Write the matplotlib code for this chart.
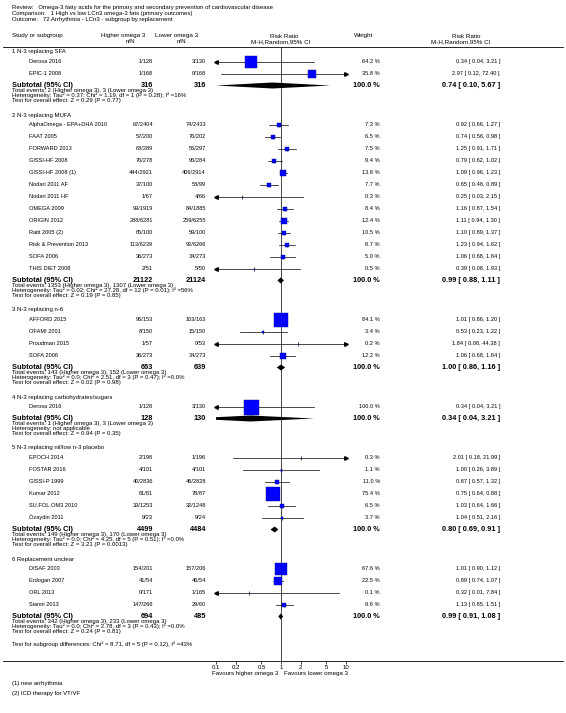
import matplotlib.pyplot as plt
from matplotlib.ticker import NullLocator

plt.rcParams['font.family'] = ['Liberation Sans', 'DejaVu Sans']

# ---- data ----
review = 'Review:   Omega-3 fatty acids for the primary and secondary prevention of cardiovascular disease'
comparison = 'Comparison:   1 High vs low LCn3 omega-3 fats (primary outcomes)'
outcome = 'Outcome:   72 Arrhythmia - LCn3 - subgroup by replacement'

groups = ['1 N-3 replacing SFA', '2 N-3 replacing MUFA', '3 N-3 replacing n-6',
          '4 N-3 replacing carbohydrates/sugars', '5 N-3 replacing nil/low n-3 placebo',
          '6 Replacement unclear']

names = [
    ['Derosa 2016', 'EPIC-1 2008'],
    ['AlphaOmega - EPA+DHA 2010', 'FAAT 2005', 'FORWARD 2013', 'GISSI-HF 2008',
     'GISSI-HF 2008 (1)', 'Nodari 2011 AF', 'Nodari 2011 HF', 'OMEGA 2009',
     'ORIGIN 2012', 'Raitt 2005 (2)', 'Risk & Prevention 2013', 'SOFA 2006',
     'THIS DIET 2008'],
    ['AFFORD 2015', 'OFAMI 2001', 'Proudman 2015', 'SOFA 2006'],
    ['Derosa 2016'],
    ['EPOCH 2014', 'FOSTAR 2016', 'GISSI-P 1999', 'Kumar 2012', 'SU.FOL.OM3 2010',
     'Özaydin 2011'],
    ['DISAF 2003', 'Erdogan 2007', 'ORL 2013', 'Sianni 2013'],
]
hi_ev = [[1, 1], [67, 57, 68, 76, 444, 37, 1, 99, 288, 65, 113, 36, 2],
         [96, 8, 1, 36], [1], [2, 4, 40, 61, 33, 9], [154, 41, 0, 147]]
hi_n = [[128, 168], [2404, 200, 289, 278, 2921, 100, 67, 1919, 6281, 100, 6239, 273, 51],
        [153, 150, 57, 273], [128], [198, 101, 2836, 81, 1253, 23], [201, 54, 171, 266]]
lo_ev = [[3, 0], [74, 76, 56, 96, 406, 58, 4, 84, 259, 59, 92, 34, 5],
         [103, 15, 0, 34], [3], [1, 4, 46, 78, 32, 9], [157, 46, 1, 29]]
lo_n = [[130, 168], [2433, 202, 297, 284, 2914, 99, 66, 1885, 6255, 100, 6266, 273, 50],
        [163, 150, 53, 273], [130], [196, 101, 2828, 87, 1248, 24], [206, 54, 165, 60]]
weight = [[64.2, 35.8], [7.3, 6.5, 7.5, 9.4, 13.8, 7.7, 0.3, 8.4, 12.4, 10.5, 8.7, 5.0, 0.5],
          [84.1, 3.4, 0.2, 12.2], [100.0], [0.3, 1.1, 11.0, 75.4, 6.5, 3.7],
          [67.6, 22.5, 0.1, 9.6]]
rr = [[0.34, 2.97], [0.92, 0.74, 1.25, 0.79, 1.09, 0.65, 0.25, 1.16, 1.11, 1.10, 1.23, 1.06, 0.39],
      [1.01, 0.53, 1.84, 1.06], [0.34], [2.01, 1.00, 0.87, 0.75, 1.03, 1.04],
      [1.01, 0.89, 0.32, 1.13]]
ci_lo = [[0.04, 0.12], [0.66, 0.56, 0.91, 0.62, 0.96, 0.48, 0.03, 0.87, 0.94, 0.89, 0.94, 0.68, 0.08],
         [0.86, 0.23, 0.08, 0.68], [0.04], [0.18, 0.26, 0.57, 0.64, 0.64, 0.51],
         [0.90, 0.74, 0.01, 0.85]]
ci_hi = [[3.21, 72.40], [1.27, 0.98, 1.71, 1.02, 1.23, 0.89, 2.15, 1.54, 1.30, 1.37, 1.62, 1.64, 1.93],
         [1.20, 1.22, 44.38, 1.64], [3.21], [21.99, 3.89, 1.32, 0.88, 1.66, 2.16],
         [1.12, 1.07, 7.84, 1.51]]

sub_hi_n = [316, 21122, 663, 128, 4499, 694]
sub_lo_n = [316, 21124, 639, 130, 4484, 485]
sub_rr = [0.74, 0.99, 1.00, 0.34, 0.80, 0.99]
sub_lo = [0.10, 0.88, 0.86, 0.04, 0.69, 0.91]
sub_hi = [5.67, 1.11, 1.16, 3.21, 0.91, 1.08]
tot_events = [
    'Total events: 2 (Higher omega 3), 3 (Lower omega 3)',
    'Total events: 1353 (Higher omega 3), 1307 (Lower omega 3)',
    'Total events: 143 (Higher omega 3), 152 (Lower omega 3)',
    'Total events: 1 (Higher omega 3), 3 (Lower omega 3)',
    'Total events: 149 (Higher omega 3), 170 (Lower omega 3)',
    'Total events: 342 (Higher omega 3), 233 (Lower omega 3)',
]
het = [
    'Heterogeneity: Tau² = 0.37; Chi² = 1.19, df = 1 (P = 0.28); I² =16%',
    'Heterogeneity: Tau² = 0.02; Chi² = 27.28, df = 12 (P = 0.01); I² =56%',
    'Heterogeneity: Tau² = 0.0; Chi² = 2.51, df = 3 (P = 0.47); I² =0.0%',
    'Heterogeneity: not applicable',
    'Heterogeneity: Tau² = 0.0; Chi² = 4.25, df = 5 (P = 0.51); I² =0.0%',
    'Heterogeneity: Tau² = 0.0; Chi² = 2.78, df = 3 (P = 0.43); I² =0.0%',
]
overall = [
    'Test for overall effect: Z = 0.29 (P = 0.77)',
    'Test for overall effect: Z = 0.19 (P = 0.85)',
    'Test for overall effect: Z = 0.02 (P = 0.98)',
    'Test for overall effect: Z = 0.94 (P = 0.35)',
    'Test for overall effect: Z = 3.21 (P = 0.0013)',
    'Test for overall effect: Z = 0.24 (P = 0.81)',
]
subgroup_test = 'Test for subgroup differences: Chi² = 8.71, df = 5 (P = 0.12), I² =43%'
footnotes = ['(1) new arrhythmia', '(2) ICD therapy for VT/VF']
ticks = [0.1, 0.2, 0.5, 1, 2, 5, 10]

# ---- layout (pixels) ----
W, H = 566, 713
X_HEAD, X_STUDY = 12, 29
X_HI, X_LO = 153, 206
X_W, X_RR = 380, 500
F_L, F_R = 216, 346
Y_TOP, Y_AX = 46.5, 661
SMALL, STUDY, BOLD = 4.3, 4.1, 5.3

fig = plt.figure(figsize=(W / 100, H / 100), dpi=100)
ax0 = fig.add_axes([0, 0, 1, 1])
ax0.set_xlim(0, W)
ax0.set_ylim(H, 0)
ax0.axis('off')

axf = fig.add_axes([F_L / W, (H - Y_AX) / H, (F_R - F_L) / W, (Y_AX - Y_TOP) / H])
axf.set_xscale('log')
axf.set_xlim(0.1, 10)
axf.set_ylim(Y_AX, Y_TOP)
axf.patch.set_visible(False)
for s in axf.spines.values():
    s.set_visible(False)
axf.set_xticks(ticks)
axf.set_xticklabels([f'{t:g}' for t in ticks])
axf.xaxis.set_minor_locator(NullLocator())
axf.set_yticks([])
axf.tick_params(axis='x', length=2, width=0.5, labelsize=4.3, pad=1)
axf.axvline(1, color='black', lw=0.5)


def t(x, y, s, size=SMALL, **kw):
    ax0.text(x, y, s, fontsize=size, va='center', **kw)


# header
for i, line in enumerate([review, comparison, outcome]):
    t(X_HEAD, 8 + i * 6, line)
HDR = 4.5
t(X_HEAD, 36, 'Study or subgroup', HDR)
t(123, 36, 'Higher omega 3', HDR, ha='center')
t(130, 41.5, 'n/N', HDR, ha='center')
t(177, 36, 'Lower omega 3', HDR, ha='center')
t(181, 41.5, 'n/N', HDR, ha='center')
t(284, 36, 'Risk Ratio', HDR, ha='center')
t(281, 41.5, 'M-H,Random,95% CI', HDR, ha='center')
t(364, 36, 'Weight', HDR, ha='center')
t(466, 36, 'Risk Ratio', HDR, ha='center')
t(461, 41.5, 'M-H,Random,95% CI', HDR, ha='center')
ax0.plot([3, 563], [Y_TOP, Y_TOP], color='black', lw=0.6)

y = 52
for g in range(len(groups)):
    t(X_HEAD, y, groups[g])
    y += 9.5
    for i, name in enumerate(names[g]):
        t(X_STUDY, y, name, STUDY)
        t(X_HI, y, f'{hi_ev[g][i]}/{hi_n[g][i]}', STUDY, ha='right')
        t(X_LO, y, f'{lo_ev[g][i]}/{lo_n[g][i]}', STUDY, ha='right')
        t(X_W, y, f'{weight[g][i]:.1f} %', STUDY, ha='right')
        t(X_RR, y, f'{rr[g][i]:.2f} [ {ci_lo[g][i]:.2f}, {ci_hi[g][i]:.2f} ]', STUDY, ha='right')
        x0, x1 = max(ci_lo[g][i], 0.1), min(ci_hi[g][i], 10)
        axf.plot([x0, x1], [y, y], color='black', lw=0.5)
        if ci_lo[g][i] < 0.1:
            axf.plot(0.1, y, marker='<', ms=2.6, color='black', clip_on=False)
        if ci_hi[g][i] > 10:
            axf.plot(10, y, marker='>', ms=2.6, color='black', clip_on=False)
        axf.plot(rr[g][i], y, marker='|', ms=2.4, mew=0.5, color='black')
        side = 1.5 * weight[g][i] ** 0.5
        axf.plot(rr[g][i], y, marker='s', ms=side * 0.72, mfc='#0000ff',
                 mec='#00008b', mew=0.3)
        y += 12
    t(X_HEAD, y, 'Subtotal (95% CI)', BOLD, weight='bold')
    t(X_HI, y, f'{sub_hi_n[g]}', BOLD, weight='bold', ha='right')
    t(X_LO, y, f'{sub_lo_n[g]}', BOLD, weight='bold', ha='right')
    t(X_W, y, '100.0 %', BOLD, weight='bold', ha='right')
    t(X_RR, y, f'{sub_rr[g]:.2f} [ {sub_lo[g]:.2f}, {sub_hi[g]:.2f} ]', BOLD,
      weight='bold', ha='right')
    axf.fill([sub_lo[g], sub_rr[g], sub_hi[g], sub_rr[g]], [y, y - 3, y, y + 3],
             color='black', lw=0)
    t(X_HEAD, y + 5, tot_events[g])
    t(X_HEAD, y + 10, het[g])
    t(X_HEAD, y + 15, overall[g])
    y += 29.5

t(X_HEAD, y - 1.5, subgroup_test)
ax0.plot([3, 563], [Y_AX, Y_AX], color='black', lw=0.6)
t(278, 673, 'Favours higher omega 3', 4.4, ha='right')
t(284, 673, 'Favours lower omega 3', 4.4)
t(X_HEAD, 683, footnotes[0])
t(X_HEAD, 693, footnotes[1])

fig.savefig('out.png', dpi=100)
